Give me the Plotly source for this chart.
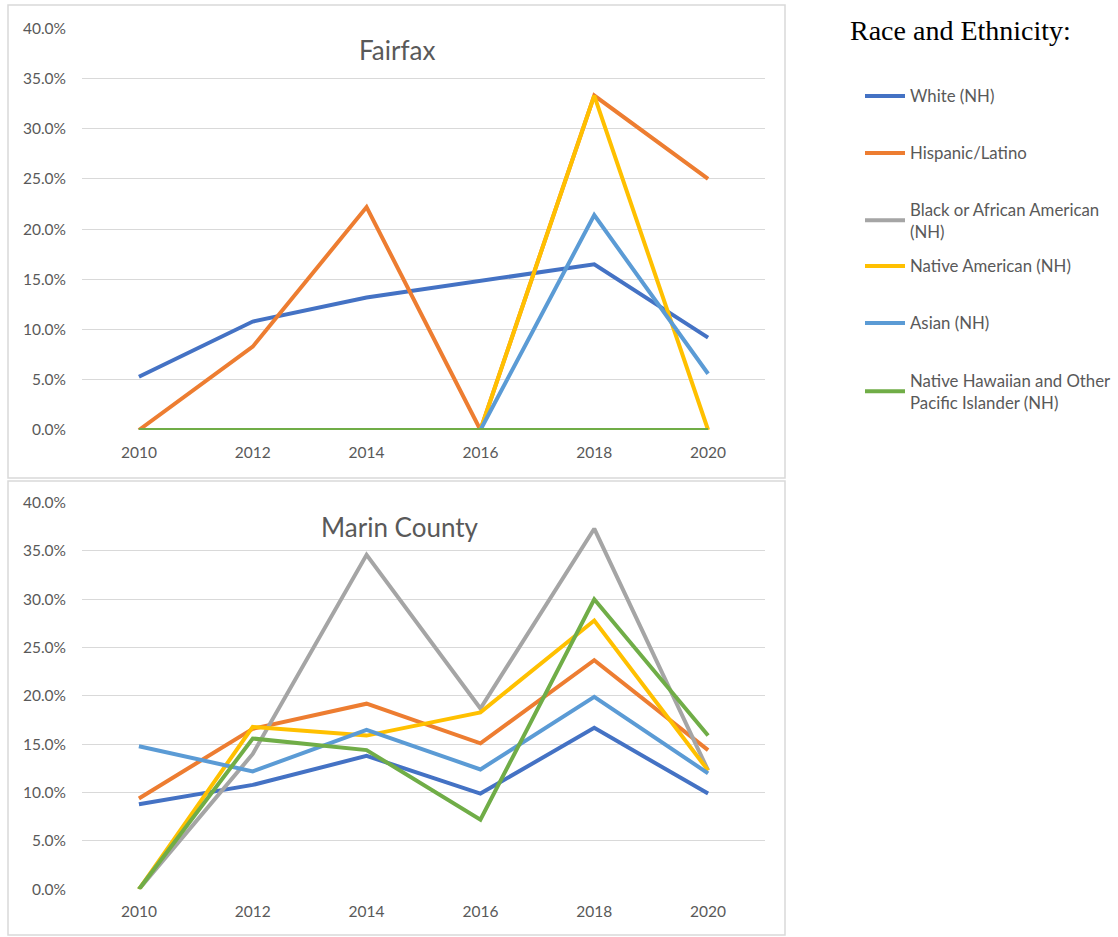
import plotly.graph_objects as go

W, H = 1118, 937

years = ["2010", "2012", "2014", "2016", "2018", "2020"]

series_names = [
    "White (NH)",
    "Hispanic/Latino",
    "Black or African American<br>(NH)",
    "Native American (NH)",
    "Asian (NH)",
    "Native Hawaiian and Other<br>Pacific Islander (NH)",
]
colors = ["#4472C4", "#ED7D31", "#A5A5A5", "#FFC000", "#5B9BD5", "#70AD47"]

# Fairfax (percent)
fairfax_white = [5.3, 10.8, 13.2, 14.8, 16.5, 9.2]
fairfax_hispanic = [0.0, 8.3, 22.2, 0.0, 33.3, 25.0]
fairfax_black = [0.0, 0.0, 0.0, 0.0, 0.0, 0.0]
fairfax_native_am = [0.0, 0.0, 0.0, 0.0, 33.3, 0.0]
fairfax_asian = [0.0, 0.0, 0.0, 0.0, 21.4, 5.6]
fairfax_nhpi = [0.0, 0.0, 0.0, 0.0, 0.0, 0.0]

# Marin County (percent)
marin_white = [8.8, 10.8, 13.8, 9.9, 16.7, 9.9]
marin_hispanic = [9.4, 16.6, 19.2, 15.1, 23.7, 14.4]
marin_black = [0.0, 14.0, 34.6, 18.7, 37.3, 12.3]
marin_native_am = [0.0, 16.8, 15.9, 18.3, 27.8, 12.3]
marin_asian = [14.8, 12.2, 16.5, 12.4, 19.9, 12.0]
marin_nhpi = [0.0, 15.6, 14.4, 7.2, 30.0, 15.9]

fairfax = [fairfax_white, fairfax_hispanic, fairfax_black, fairfax_native_am, fairfax_asian, fairfax_nhpi]
marin = [marin_white, marin_hispanic, marin_black, marin_native_am, marin_asian, marin_nhpi]

y_ticks = [0, 5, 10, 15, 20, 25, 30, 35, 40]

# legend item vertical centres (pixels from top)
legend_centres = [96, 153, 220.5, 266, 323, 391.5]

def px_x(p):
    return p / W

def px_y(p):
    return 1 - p / H

legend_keys = ["legend", "legend2", "legend3", "legend4", "legend5", "legend6"]

fig = go.Figure()

for i, (name, col) in enumerate(zip(series_names, colors)):
    fig.add_trace(go.Scatter(
        x=years, y=fairfax[i], mode="lines", name=name,
        line=dict(color=col, width=4), xaxis="x", yaxis="y",
        legendgroup=f"g{i}", showlegend=True, legend=legend_keys[i],
    ))
for i, (name, col) in enumerate(zip(series_names, colors)):
    fig.add_trace(go.Scatter(
        x=years, y=marin[i], mode="lines", name=name,
        line=dict(color=col, width=4), xaxis="x2", yaxis="y2",
        legendgroup=f"g{i}", showlegend=False, legend=legend_keys[i],
    ))

font_fam = "Lato, 'Open Sans', sans-serif"
tick_font = dict(family=font_fam, size=15.5, color="#595959")

xaxis_common = dict(
    type="category", range=[-0.5, 5.5], showgrid=False, zeroline=False,
    showline=False, ticks="", tickfont=tick_font, ticklabelstandoff=11,
    fixedrange=True, automargin=False,
)
yaxis_common = dict(
    range=[0, 40], tickvals=y_ticks, ticktext=[f"{v:.1f}%" for v in y_ticks],
    showgrid=True, gridcolor="#D9D9D9", gridwidth=1.3, zeroline=False,
    showline=False, ticks="", tickfont=tick_font, ticklabelstandoff=15,
    fixedrange=True, automargin=False,
)

legend_font = dict(family=font_fam, size=16.8, color="#595959")
legends = {}
for key, yc in zip(legend_keys, legend_centres):
    legends[key] = dict(
        x=px_x(860), y=px_y(yc), xanchor="left", yanchor="middle",
        font=legend_font, itemwidth=40, bgcolor="rgba(0,0,0,0)",
        borderwidth=0,
    )

fig.update_layout(
    width=W, height=H,
    margin=dict(l=0, r=0, t=0, b=0),
    paper_bgcolor="white", plot_bgcolor="white",
    xaxis=dict(domain=[px_x(82), px_x(765)], anchor="y", **xaxis_common),
    yaxis=dict(domain=[px_y(430), px_y(28.3)], anchor="x", **yaxis_common),
    xaxis2=dict(domain=[px_x(82), px_x(765)], anchor="y2", **xaxis_common),
    yaxis2=dict(domain=[px_y(889.3), px_y(502.6)], anchor="x2", **yaxis_common),
    showlegend=True,
    shapes=[
        dict(type="rect", xref="paper", yref="paper",
             x0=px_x(8), x1=px_x(785), y0=px_y(478), y1=px_y(5),
             line=dict(color="#D9D9D9", width=1.5), fillcolor="rgba(0,0,0,0)", layer="below"),
        dict(type="rect", xref="paper", yref="paper",
             x0=px_x(8), x1=px_x(785), y0=px_y(935), y1=px_y(481),
             line=dict(color="#D9D9D9", width=1.5), fillcolor="rgba(0,0,0,0)", layer="below"),
    ],
    annotations=[
        dict(text="Fairfax", xref="paper", yref="paper", x=px_x(397), y=px_y(50),
             xanchor="center", yanchor="middle", showarrow=False,
             font=dict(family=font_fam, size=26, color="#595959")),
        dict(text="Marin County", xref="paper", yref="paper", x=px_x(400), y=px_y(527),
             xanchor="center", yanchor="middle", showarrow=False,
             font=dict(family=font_fam, size=26, color="#595959")),
        dict(text="Race and Ethnicity:", xref="paper", yref="paper", x=px_x(848), y=px_y(31),
             xanchor="left", yanchor="middle", showarrow=False,
             font=dict(family="'Liberation Serif', 'DejaVu Serif', serif", size=28, color="#000000")),
    ],
    **legends,
)

fig.write_html("out.html")
